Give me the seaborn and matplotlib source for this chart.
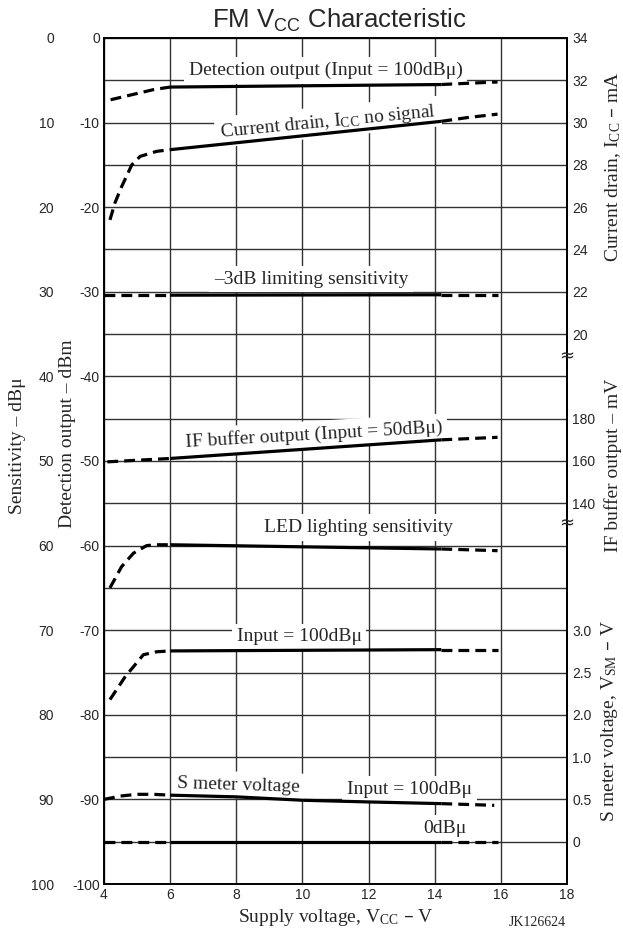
import numpy as np
import matplotlib
matplotlib.use("Agg")
import matplotlib.pyplot as plt
from matplotlib.ticker import MultipleLocator, FixedLocator, NullLocator
import seaborn as sns

# ---- curve data (x: supply voltage V, y: position on the detection-output scale, dBm) ----
det_x = [4.2, 4.9, 5.5, 6.0, 10.0, 14.2, 15.0, 15.9]
det_y = [-7.3, -6.65, -6.1, -5.8, -5.65, -5.5, -5.35, -5.2]

icc_x = [4.18, 4.33, 4.53, 4.84, 5.09, 5.59, 6.0, 14.2, 15.0, 15.9]
icc_y = [-21.5, -19.5, -17.6, -15.0, -14.0, -13.4, -13.2, -9.85, -9.4, -9.0]

lim_x = [4.0, 6.0, 14.2, 15.9]
lim_y = [-30.4, -30.4, -30.35, -30.35]

ifb_x = [4.1, 6.0, 14.2, 15.9]
ifb_y = [-50.1, -49.7, -47.5, -47.2]

led_x = [4.18, 4.53, 4.89, 5.29, 5.59, 6.0, 14.2, 15.9]
led_y = [-65.0, -62.5, -60.9, -60.0, -59.9, -59.9, -60.4, -60.6]

sin_x = [4.18, 4.64, 5.19, 5.59, 6.0, 14.2, 15.9]
sin_y = [-78.2, -75.5, -72.9, -72.55, -72.45, -72.3, -72.3]

smv_x = [4.0, 4.5, 5.0, 5.5, 6.0, 8.0, 10.0, 12.0, 14.2, 15.0, 15.8]
smv_y = [-90.0, -89.6, -89.4, -89.4, -89.5, -89.7, -90.1, -90.3, -90.5, -90.6, -90.7]

sm0_x = [4.0, 6.0, 14.2, 15.9]
sm0_y = [-95.0, -95.0, -95.0, -95.0]

# ---- axis tick values / labels ----
x_ticks = [4, 6, 8, 10, 12, 14, 16, 18]
det_ticks = [0, -10, -20, -30, -40, -50, -60, -70, -80, -90, -100]
sens_ticks = [0, 10, 20, 30, 40, 50, 60, 70, 80, 90, 100]
right_pos = [0, -5, -10, -15, -20, -25, -30, -35,
             -45, -50, -55,
             -70, -75, -80, -85, -90, -95]
right_lab = ["34", "32", "30", "28", "26", "24", "22", "20",
             "180", "160", "140",
             "3.0", "2.5", "2.0", "1.0", "0.5", "0"]
break_pos = [-37.6, -57.4]

# curve captions: text, x, y, rotation
captions = [
    ("Detection output (Input = 100dB\u03bc)", 10.7, -3.8, 0),
    ("Current drain, I$_{CC}$ no signal", 10.77, -9.9, 5.5),
    ("\u20133dB limiting sensitivity", 10.26, -28.5, 0),
    ("IF buffer output (Input = 50dB\u03bc)", 10.35, -46.9, 3.3),
    ("LED lighting sensitivity", 11.7, -57.9, 0),
    ("Input = 100dB\u03bc", 9.9, -70.8, 0),
    ("S meter voltage", 8.07, -88.3, -1.8),
    ("Input = 100dB\u03bc", 13.24, -88.8, 0),
    ("0dB\u03bc", 14.31, -93.4, 0),
]

SOLID_FROM, SOLID_TO = 6.0, 14.2

sns.set_style("white")
plt.rcParams["font.family"] = ["Liberation Serif", "DejaVu Serif"]
plt.rcParams["mathtext.default"] = "regular"
plt.rcParams["axes.unicode_minus"] = False
SANS = ["Liberation Sans", "DejaVu Sans"]

W, H = 623, 931
fig = plt.figure(figsize=(W / 100, H / 100), dpi=100)
L, R, T, B = 104, 567, 38, 884
ax = fig.add_axes([L / W, 1 - B / H, (R - L) / W, (B - T) / H])

DASH = (0, (3.4, 1.9))


def draw_curve(xs, ys):
    xs = np.asarray(xs, dtype=float)
    ys = np.asarray(ys, dtype=float)
    parts = [
        (xs <= SOLID_FROM, DASH),
        ((xs >= SOLID_FROM) & (xs <= SOLID_TO), "-"),
        (xs >= SOLID_TO, DASH),
    ]
    for mask, style in parts:
        if mask.sum() < 2:
            continue
        sns.lineplot(x=xs[mask], y=ys[mask], ax=ax, color="black", lw=2.3,
                     linestyle=style, sort=False, estimator=None, legend=False,
                     zorder=3, dash_capstyle="butt", solid_capstyle="butt")


for cx, cy in [(det_x, det_y), (icc_x, icc_y), (lim_x, lim_y), (ifb_x, ifb_y),
               (led_x, led_y), (sin_x, sin_y), (smv_x, smv_y), (sm0_x, sm0_y)]:
    draw_curve(cx, cy)

ax.set_xlim(4, 18)
ax.set_ylim(-100, 0)
ax.set_xlabel("")
ax.set_ylabel("")

# grid: vertical every 2 V, horizontal every 5 units
ax.xaxis.set_major_locator(FixedLocator(x_ticks))
ax.yaxis.set_major_locator(FixedLocator(det_ticks))
ax.yaxis.set_minor_locator(MultipleLocator(5))
ax.set_axisbelow(True)
ax.grid(True, which="both", axis="y", color="#333333", lw=1.0)
ax.grid(True, which="major", axis="x", color="#333333", lw=1.0)
ax.tick_params(axis="y", which="minor", length=0)
ax.tick_params(axis="y", which="major", length=0, pad=3, labelsize=10)
ax.tick_params(axis="x", length=0, pad=3, labelsize=10)
for lab in ax.get_xticklabels() + ax.get_yticklabels():
    lab.set_family(SANS)
for sp in ax.spines.values():
    sp.set_color("black")
    sp.set_linewidth(1.4)

# outer sensitivity scale (dBu)
sec = ax.secondary_yaxis(-0.108, functions=(lambda v: -v, lambda v: -v))
sec.set_yticks(sens_ticks)
sec.spines["left"].set_visible(False)
sec.tick_params(length=0, pad=0, labelsize=10)
for lab in sec.get_yticklabels():
    lab.set_family(SANS)

# right-hand mixed scale
rax = ax.secondary_yaxis("right")
rax.set_yticks(right_pos, labels=right_lab)
rax.yaxis.set_minor_locator(NullLocator())
rax.spines["right"].set_linewidth(1.4)
rax.tick_params(length=0, pad=3.6, labelsize=10)
for lab in rax.get_yticklabels():
    lab.set_family(SANS)

for bp in break_pos:
    ax.text(18, bp, "\u2248", ha="center", va="center", fontsize=13,
            clip_on=False, zorder=5, family=["DejaVu Sans"])

# curve captions on white boxes
for txt, tx, ty, rot in captions:
    ax.text(tx, ty, txt, ha="center", va="center", rotation=rot,
            rotation_mode="anchor", fontsize=14, zorder=2.5,
            bbox=dict(boxstyle="square,pad=0.25", fc="white", ec="none"))

# axis titles
ax.text(-0.186, -48.2, "Sensitivity \u2013 dB\u03bc", rotation=90, ha="center",
        va="center", fontsize=14, transform=ax.get_yaxis_transform())
ax.text(-0.078, -46.8, "Detection output \u2013 dBm", rotation=90, ha="center",
        va="center", fontsize=14, transform=ax.get_yaxis_transform())
ax.text(1.100, -15.2, "Current drain, I$_{CC}$ \u2013 mA", rotation=90,
        ha="center", va="center", fontsize=14, transform=ax.get_yaxis_transform())
ax.text(1.100, -50.5, "IF buffer output \u2013 mV", rotation=90,
        ha="center", va="center", fontsize=14, transform=ax.get_yaxis_transform())
ax.text(1.092, -80.7, "S meter voltage, V$_{SM}$ \u2013 V", rotation=90,
        ha="center", va="center", fontsize=14, transform=ax.get_yaxis_transform())

fig.text(335.5 / W, 1 - 917 / H, "Supply voltage, V$_{CC}$ \u2013 V", ha="center",
         va="center", fontsize=14)
fig.text(537 / W, 1 - 922 / H, "JK126624", ha="center", va="center", fontsize=10)
fig.text(339 / W, 1 - 28 / H, "FM V$_{CC}$ Characteristic", ha="center",
         va="baseline", fontsize=18.5, family=SANS)

fig.savefig("out.png", dpi=100)
